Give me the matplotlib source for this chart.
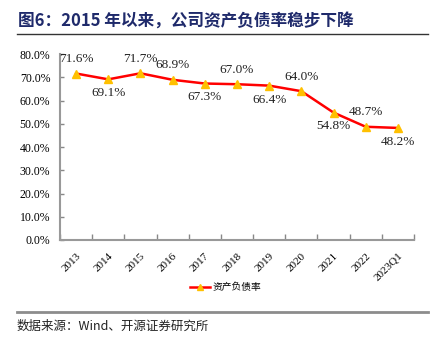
import matplotlib
matplotlib.use("Agg")
import matplotlib.pyplot as plt
from matplotlib.lines import Line2D
from matplotlib.ticker import FixedLocator, PercentFormatter

# data
years = ["2013", "2014", "2015", "2016", "2017", "2018", "2019", "2020", "2021", "2022", "2023Q1"]
debt_ratio = [71.6, 69.1, 71.7, 68.9, 67.3, 67.0, 66.4, 64.0, 54.8, 48.7, 48.2]
label_above = [True, False, True, True, False, True, False, True, False, True, False]
y_ticks = [0, 10, 20, 30, 40, 50, 60, 70, 80]

cjk = ["Noto Sans CJK SC", "DejaVu Sans"]
serif = ["Liberation Serif", "DejaVu Serif"]

fig = plt.figure(figsize=(4.48, 3.48), dpi=100)
W, H = 448, 348
ax = fig.add_axes([60 / W, 1 - 240 / H, (414 - 60) / W, (240 - 54) / H])

x = list(range(len(years)))
ax.plot(x, debt_ratio, color="#FF0000", linewidth=1.8, zorder=2)
ax.plot(x, debt_ratio, linestyle="none", marker="^", markersize=6,
        color="#FFC000", markeredgecolor="#FFC000", zorder=3)

for xi, v, up in zip(x, debt_ratio, label_above):
    dy = 10.5 if up else -10
    ax.annotate(f"{v:.1f}%", (xi, v), xytext=(0, dy), textcoords="offset points",
                ha="center", va="center", fontsize=9.5, family=serif, color="#222222")

ax.set_ylim(0, 80)
ax.set_xlim(-0.5, len(years) - 0.5)
ax.yaxis.set_major_locator(FixedLocator(y_ticks))
ax.yaxis.set_major_formatter(PercentFormatter(decimals=1))

ax.set_xticks(x)
ax.set_xticklabels(years, rotation=45, ha="right", rotation_mode="anchor",
                   fontsize=8, family=serif)
ax.tick_params(axis="x", which="major", length=0, pad=8)
ax.set_xticks([i - 0.5 for i in range(len(years) + 1)], minor=True)
ax.tick_params(axis="x", which="minor", length=4, color="#888888", width=1, direction="in")
ax.tick_params(axis="y", length=3, color="#888888", width=1, direction="in", pad=7,
               labelsize=8.5)
for lab in ax.get_yticklabels():
    lab.set_family(serif)

for s in ["top", "right"]:
    ax.spines[s].set_visible(False)
for s in ["left", "bottom"]:
    ax.spines[s].set_color("#999999")
    ax.spines[s].set_linewidth(1.5)

# legend
leg_handle = Line2D([0], [0], color="#FF0000", linewidth=1.8, marker="^",
                    markersize=5, markerfacecolor="#FFC000", markeredgecolor="#FFC000")
fig.legend([leg_handle], ["资产负债率"], loc="center", bbox_to_anchor=(226 / W, 1 - 287 / H),
           frameon=False, prop={"family": cjk, "size": 7}, handlelength=2.0,
           handletextpad=0.3)

# title and footer
fig.text(18 / W, 1 - 21 / H, "图6：2015 年以来，公司资产负债率稳步下降", family=cjk,
         fontsize=12, fontweight="bold", color="#1F2A6B", va="center", ha="left")
fig.add_artist(Line2D([17 / W, 428 / W], [1 - 34 / H, 1 - 34 / H], color="#333333", linewidth=1))
fig.add_artist(Line2D([17 / W, 428 / W], [1 - 312 / H, 1 - 312 / H], color="#8C8C8C", linewidth=2))
fig.text(17 / W, 1 - 326 / H, "数据来源：Wind、开源证券研究所", family=cjk,
         fontsize=9, color="#222222", va="center", ha="left")

fig.savefig("out.png", dpi=100)
